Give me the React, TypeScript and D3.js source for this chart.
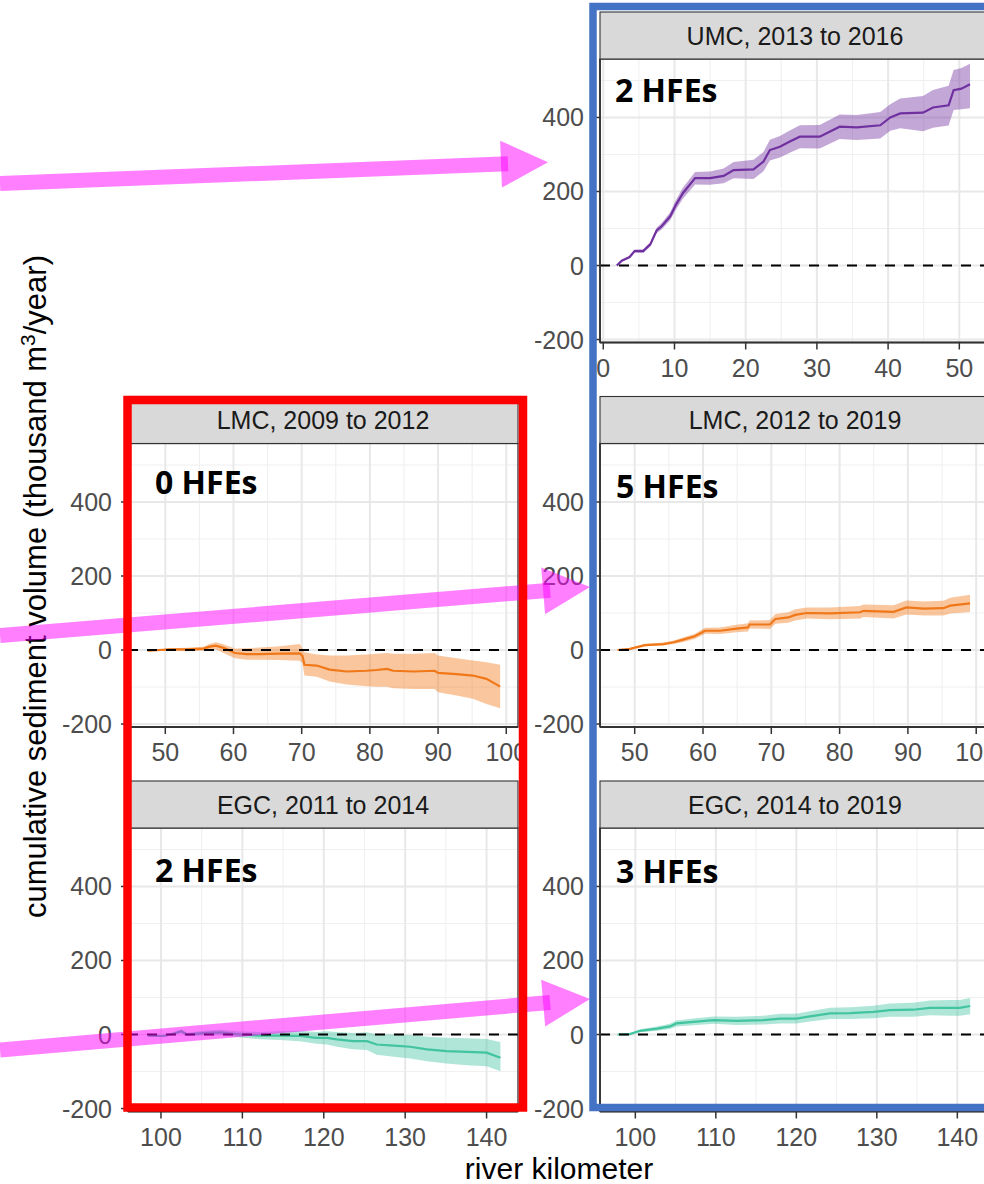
import React from 'react';
import * as d3 from 'd3';

const W = 984;
const H = 1184;

// ---------------- data ----------------
const umcKm = [1.9, 2.6, 3.7, 4.4, 5.6, 6.6, 7.5, 8.2, 9.4, 10.2, 11.2, 12.9, 15.0, 16.9, 18.3, 21.1, 22.5, 23.4, 24.8, 26.2, 27.6, 30.4, 33.2, 35.6, 38.9, 40.3, 41.7, 44.9, 46.3, 48.5, 49.2, 50.3, 51.5];
const umcMean = [0, 13, 23, 39, 39, 57, 95, 106, 133, 164, 196, 236, 236, 242, 258, 260, 281, 312, 321, 335, 348, 348, 375, 373, 379, 400, 411, 413, 427, 433, 474, 478, 490];
const umcLower = [0, 11, 20, 35, 34, 51, 87, 97, 122, 151, 181, 219, 218, 222, 236, 234, 255, 284, 292, 305, 317, 316, 342, 339, 343, 364, 371, 363, 372, 378, 420, 422, 425];
const umcUpper = [0, 15, 26, 43, 44, 63, 103, 115, 144, 177, 211, 253, 254, 262, 280, 286, 307, 340, 350, 365, 379, 380, 408, 407, 415, 436, 451, 458, 474, 486, 528, 534, 545];

const lmc09Km = [47.4, 50.7, 53.1, 55.6, 56.5, 57.4, 58.3, 59.0, 60.2, 61.9, 63.9, 66.8, 69.7, 70.1, 70.4, 72.2, 74.1, 76.6, 79.5, 81.0, 82.5, 83.4, 86.4, 89.5, 90.0, 92.7, 95.1, 97.1, 99.1];
const lmc09Mean = [-2, 2, 2, 4, 9, 12, 7, 3, -8, -11, -11, -10, -9, -15, -40, -42, -53, -58, -56, -54, -51, -56, -58, -56, -62, -65, -69, -78, -99];
const lmc09Lower = [-2, -2, -3, -2, 1, 2, -6, -12, -22, -26, -26, -27, -29, -35, -69, -72, -85, -93, -98, -99, -99, -103, -105, -105, -114, -123, -132, -146, -157];
const lmc09Upper = [-2, 5, 6, 9, 16, 21, 17, 12, 4, 5, 7, 10, 16, 5, -6, -12, -15, -15, -12, -10, -8, -10, -10, -8, -15, -22, -28, -33, -40];

const lmc12Km = [47.5, 49.3, 51.5, 54.2, 55.7, 57.1, 58.8, 60.3, 62.5, 64.9, 66.6, 66.8, 69.8, 70.6, 72.5, 73.5, 75.2, 78.6, 83.0, 83.5, 87.9, 89.8, 92.3, 95.2, 96.2, 99.1];
const lmc12Mean = [0, 3, 13, 16, 21, 28, 37, 52, 52, 58, 61, 69, 69, 84, 88, 95, 100, 99, 102, 106, 103, 115, 112, 113, 120, 126];
const lmc12Lower = [0, 1, 10, 12, 16, 22, 30, 44, 43, 48, 50, 58, 57, 71, 74, 80, 85, 83, 85, 89, 85, 96, 93, 93, 99, 103];
const lmc12Upper = [0, 5, 16, 20, 26, 34, 44, 60, 61, 68, 72, 80, 81, 97, 102, 110, 115, 115, 119, 123, 121, 134, 131, 133, 141, 149];

const egc11Km = [98.4, 100.3, 101.5, 102.5, 103.2, 105.2, 107.3, 109.7, 112.2, 114.6, 117.1, 119.1, 120.4, 121.6, 123.6, 125.3, 126.5, 128.6, 130.6, 132.7, 135.1, 137.6, 140.0, 141.7];
const egc11Mean = [-3, -4, 2, 9, 0, 4, 6, 0, -3, -3, -4, -9, -9, -13, -18, -18, -27, -30, -33, -40, -45, -47, -49, -63];
const egc11Lower = [-3, -7, -2, 4, -5, -2, -1, -8, -13, -15, -18, -25, -27, -33, -40, -42, -55, -60, -65, -72, -78, -83, -86, -99];
const egc11Upper = [-3, -1, 6, 14, 5, 10, 13, 8, 7, 9, 10, 7, 9, 7, 4, 6, 1, 0, -1, -6, -9, -10, -12, -20];

const egc14Km = [97.8, 99.3, 100.6, 102.7, 104.3, 105.1, 107.2, 109.7, 112.6, 115.9, 118.0, 120.0, 121.7, 124.2, 126.7, 129.6, 131.6, 134.5, 136.6, 139.1, 140.3, 141.6];
const egc14Mean = [0, 1, 10, 16, 22, 30, 34, 39, 37, 39, 43, 43, 49, 57, 58, 61, 66, 67, 72, 72, 72, 77];
const egc14Lower = [0, -1, 6, 10, 15, 22, 25, 29, 26, 27, 30, 30, 35, 42, 42, 44, 48, 48, 52, 51, 51, 55];
const egc14Upper = [0, 3, 14, 22, 29, 38, 43, 49, 48, 51, 56, 56, 63, 72, 74, 78, 84, 86, 92, 93, 93, 99];

const yMajor = [-200, 0, 200, 400];
const yMinor = [-100, 100, 300, 500];
const umcTicks = [0, 10, 20, 30, 40, 50];
const lmcTicks = [50, 60, 70, 80, 90, 100];
const egcTicks = [100, 110, 120, 130, 140];

const titles = ['UMC, 2013 to 2016', 'LMC, 2009 to 2012', 'LMC, 2012 to 2019', 'EGC, 2011 to 2014', 'EGC, 2014 to 2019'];
const hfeLabels = ['2 HFEs', '0 HFEs', '5 HFEs', '2 HFEs', '3 HFEs'];

// ---------------- layout ----------------
const colLeft = [128, 600];
const rowTop = [59, 443.5, 828];
const panelW = 390;
const panelH = 283.5;
const stripH = 47;

type Panel = {
  title: string; hfe: string; col: number; row: number;
  km: number[]; mean: number[]; lower: number[]; upper: number[];
  xDomain: [number, number]; ticks: number[]; color: string;
  hx: number; hy: number;
};

const PURPLE = '#7030A0';
const ORANGE = '#F07818';
const GREEN = '#41C49F';

const panels: Panel[] = [
  { title: titles[0], hfe: hfeLabels[0], col: 1, row: 0, km: umcKm, mean: umcMean, lower: umcLower, upper: umcUpper, xDomain: [-0.46, 54.31], ticks: umcTicks, color: PURPLE, hx: 15, hy: 43 },
  { title: titles[1], hfe: hfeLabels[1], col: 0, row: 1, km: lmc09Km, mean: lmc09Mean, lower: lmc09Lower, upper: lmc09Upper, xDomain: [44.53, 101.72], ticks: lmcTicks, color: ORANGE, hx: 27, hy: 50.5 },
  { title: titles[2], hfe: hfeLabels[2], col: 1, row: 1, km: lmc12Km, mean: lmc12Mean, lower: lmc12Lower, upper: lmc12Upper, xDomain: [44.92, 102.02], ticks: lmcTicks, color: ORANGE, hx: 16, hy: 54.5 },
  { title: titles[3], hfe: hfeLabels[3], col: 0, row: 2, km: egc11Km, mean: egc11Mean, lower: egc11Lower, upper: egc11Upper, xDomain: [95.95, 143.86], ticks: egcTicks, color: GREEN, hx: 27, hy: 54 },
  { title: titles[4], hfe: hfeLabels[4], col: 1, row: 2, km: egc14Km, mean: egc14Mean, lower: egc14Lower, upper: egc14Upper, xDomain: [95.61, 144.06], ticks: egcTicks, color: GREEN, hx: 16, hy: 55 },
];

const FONT = "'Liberation Sans', Arial, Helvetica, sans-serif";

const yScale = d3.scaleLinear().domain([-208, 558]).range([panelH, 0]);

function PanelView({ p, idx }: { p: Panel; idx: number }) {
  const x = d3.scaleLinear().domain(p.xDomain).range([0, panelW]);
  const minors: number[] = [];
  p.ticks.forEach((t) => { minors.push(t - 5); });
  minors.push(p.ticks[p.ticks.length - 1] + 5);
  const xMinor = minors.filter((m) => m > p.xDomain[0] && m < p.xDomain[1]);
  const pts = p.km.map((k, i) => ({ k, m: p.mean[i], lo: p.lower[i], hi: p.upper[i] }));
  const area = d3.area<typeof pts[0]>().x((d) => x(d.k)).y0((d) => yScale(d.lo)).y1((d) => yScale(d.hi));
  const line = d3.line<typeof pts[0]>().x((d) => x(d.k)).y((d) => yScale(d.m));
  const clipId = `clip-${idx}`;
  return (
    <g transform={`translate(${colLeft[p.col]},${rowTop[p.row]})`}>
      <defs>
        <clipPath id={clipId}><rect x={0} y={0} width={panelW} height={panelH} /></clipPath>
      </defs>
      <rect x={0} y={0} width={panelW} height={panelH} fill="#fff" />
      <g clipPath={`url(#${clipId})`}>
        {yMinor.map((v) => <line key={'ym' + v} x1={0} x2={panelW} y1={yScale(v)} y2={yScale(v)} stroke="#F0F0F0" strokeWidth={1.1} />)}
        {xMinor.map((v) => <line key={'xm' + v} x1={x(v)} x2={x(v)} y1={0} y2={panelH} stroke="#F0F0F0" strokeWidth={1.1} />)}
        {yMajor.map((v) => <line key={'yM' + v} x1={0} x2={panelW} y1={yScale(v)} y2={yScale(v)} stroke="#E8E8E8" strokeWidth={2} />)}
        {p.ticks.map((v) => <line key={'xM' + v} x1={x(v)} x2={x(v)} y1={0} y2={panelH} stroke="#E8E8E8" strokeWidth={2} />)}
        <path d={area(pts) || ''} fill={p.color} fillOpacity={0.42} stroke="none" />
        <path d={line(pts) || ''} fill="none" stroke={p.color} strokeWidth={2.2} />
        <line x1={0} x2={panelW} y1={yScale(0)} y2={yScale(0)} stroke="#000" strokeWidth={2} strokeDasharray="10,9" />
      </g>
      <rect x={0} y={0} width={panelW} height={panelH} fill="none" stroke="#333" strokeWidth={1.3} />
      <line x1={0} x2={0} y1={0} y2={panelH} stroke="#333" strokeWidth={1.8} />
      <line x1={0} x2={panelW} y1={panelH} y2={panelH} stroke="#333" strokeWidth={1.8} />
      {/* strip */}
      <rect x={0} y={-stripH} width={panelW} height={stripH} fill="#D9D9D9" stroke="#333" strokeWidth={1.1} />
      <text x={panelW / 2} y={-stripH / 2} dy="0.36em" textAnchor="middle" fontSize={25} fill="#1A1A1A" fontFamily={FONT}>{p.title}</text>
      {/* y axis */}
      {yMajor.map((v) => (
        <g key={'yt' + v}>
          <line x1={-7} x2={0} y1={yScale(v)} y2={yScale(v)} stroke="#333" strokeWidth={1.5} />
          <text x={-16} y={yScale(v)} dy="0.36em" textAnchor="end" fontSize={25} fill="#4D4D4D" fontFamily={FONT}>{v}</text>
        </g>
      ))}
      {/* x axis */}
      {p.ticks.map((v) => (
        <g key={'xt' + v}>
          <line x1={x(v)} x2={x(v)} y1={panelH} y2={panelH + 7} stroke="#333" strokeWidth={1.5} />
          <text x={x(v)} y={panelH + 34} textAnchor="middle" fontSize={25} fill="#4D4D4D" fontFamily={FONT}>{v}</text>
        </g>
      ))}
      <text x={p.hx} y={p.hy} fontSize={32} fontWeight={700} fill="#000" fontFamily="'Open Sans', 'Noto Sans', sans-serif">{p.hfe}</text>
    </g>
  );
}

type Arrow = { x1: number; y1: number; x2: number; y2: number };
const arrows: Arrow[] = [
  { x1: 0, y1: 183.5, x2: 548, y2: 162.3 },
  { x1: 0, y1: 635.5, x2: 590, y2: 587 },
  { x1: 0, y1: 1050, x2: 590, y2: 999 },
];

function ArrowView({ a }: { a: Arrow }) {
  const dx = a.x2 - a.x1, dy = a.y2 - a.y1;
  const len = Math.hypot(dx, dy);
  const ux = dx / len, uy = dy / len;
  const nx = -uy, ny = ux;
  const sw = 15, headLen = 47, headW = 47, overlap = 7;
  const ex = a.x2 - ux * (headLen - overlap), ey = a.y2 - uy * (headLen - overlap);
  const bx = a.x2 - ux * headLen, by = a.y2 - uy * headLen;
  const shaft = [
    [a.x1 + nx * sw / 2, a.y1 + ny * sw / 2],
    [ex + nx * sw / 2, ey + ny * sw / 2],
    [ex - nx * sw / 2, ey - ny * sw / 2],
    [a.x1 - nx * sw / 2, a.y1 - ny * sw / 2],
  ];
  const head = [
    [bx + nx * headW / 2, by + ny * headW / 2],
    [a.x2, a.y2],
    [bx - nx * headW / 2, by - ny * headW / 2],
  ];
  const toPts = (arr: number[][]) => arr.map((q) => q.join(',')).join(' ');
  return (
    <g>
      <polygon points={toPts(shaft)} fill="#FF00FF" fillOpacity={0.5} />
      <polygon points={toPts(head)} fill="#FF00FF" fillOpacity={0.5} />
    </g>
  );
}

export default function App() {
  return (
    <svg width={W} height={H} style={{ position: 'absolute', left: 0, top: 0, display: 'block' }} fontFamily={FONT}>
      <rect x={0} y={0} width={W} height={H} fill="#fff" />
      {panels.map((p, i) => <PanelView key={i} p={p} idx={i} />)}
      <text transform={`translate(45.5,586.5) rotate(-90)`} textAnchor="middle" fontSize={31} fill="#000" fontFamily={FONT}>
        cumulative sediment volume (thousand m<tspan dy={-11} fontSize={21}>3</tspan><tspan dy={11}>/year)</tspan>
      </text>
      <text x={559} y={1179} textAnchor="middle" fontSize={30} fill="#000" fontFamily={FONT}>river kilometer</text>
      {arrows.map((a, i) => <ArrowView key={i} a={a} />)}
      <rect x={127.5} y={400} width={395.5} height={707.5} fill="none" stroke="#FF0000" strokeWidth={8.5} />
      <rect x={593} y={6.5} width={520} height={1101} fill="none" stroke="#4472C4" strokeWidth={7.5} />
    </svg>
  );
}
